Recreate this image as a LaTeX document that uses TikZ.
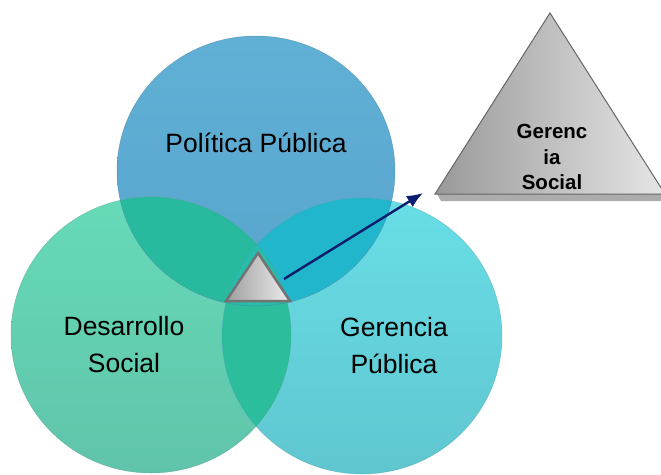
\documentclass[tikz,border=0pt]{standalone}
\usepackage{fontspec}
\usetikzlibrary{arrows.meta}
\setmainfont{Liberation Sans}
\begin{document}
\begin{tikzpicture}[x=1pt,y=-1pt,
  lbl/.style={font=\fontsize{26.5}{37}\selectfont, align=center, text=black},
  bigtxt/.style={font=\bfseries\fontsize{20.5}{25.5}\selectfont, align=center, text=black}]
\definecolor{topc}{RGB}{96,176,214}
\definecolor{topc2}{RGB}{88,164,204}
\definecolor{lefta}{RGB}{102,218,184}
\definecolor{leftb}{RGB}{96,196,170}
\definecolor{righta}{RGB}{104,222,230}
\definecolor{rightb}{RGB}{96,198,208}
\definecolor{ovTL}{RGB}{40,186,158}
\definecolor{ovTR}{RGB}{34,182,204}
\definecolor{ovLR}{RGB}{44,190,156}
\definecolor{ovAll}{RGB}{40,188,170}
\definecolor{arr}{RGB}{10,30,110}
\useasboundingbox (0,0) rectangle (661,474);
\fill[white] (0,0) rectangle (661,474);
% circles
\shade[top color=topc, bottom color=topc2] (256,171) ellipse [x radius=139, y radius=135];
\shade[top color=lefta, bottom color=leftb] (151,335) ellipse [x radius=140, y radius=138];
\shade[top color=righta, bottom color=rightb] (362,336) ellipse [x radius=140, y radius=138];
% overlaps
\begin{scope}
  \clip (256,171) ellipse [x radius=139, y radius=135];
  \fill[ovTL] (151,335) ellipse [x radius=140, y radius=138];
  \fill[ovTR] (362,336) ellipse [x radius=140, y radius=138];
\end{scope}
\begin{scope}
  \clip (151,335) ellipse [x radius=140, y radius=138];
  \fill[ovLR] (362,336) ellipse [x radius=140, y radius=138];
  \clip (256,171) ellipse [x radius=139, y radius=135];
  \fill[ovAll] (362,336) ellipse [x radius=140, y radius=138];
\end{scope}
% outlines
\draw[topc2!80!black, line width=0.5, opacity=0.6] (256,171) ellipse [x radius=139, y radius=135];
\draw[leftb!80!black, line width=0.5, opacity=0.5] (151,335) ellipse [x radius=140, y radius=138];
\draw[rightb!80!black, line width=0.5, opacity=0.5] (362,336) ellipse [x radius=140, y radius=138];
% labels
\node[lbl] (pp) at (256,143) {Política Pública};
\node[lbl] (ds) at (124,345) {Desarrollo\\Social};
\node[lbl] (gp) at (394,346) {Gerencia\\Pública};
% small triangle
\coordinate (sA) at (258,253);
\coordinate (sL) at (226,301);
\coordinate (sR) at (290,301);
\shade[shading angle=45, left color=gray!75, right color=gray!15] (sA) -- (sL) -- (sR) -- cycle;
\draw[gray!90!black, line width=2.5, line join=miter] (sA) -- (sL) -- (sR) -- cycle;
% big triangle
\fill[gray!65] (437,194) -- (663,194) -- (663,201) -- (441,201) -- cycle;
\coordinate (bA) at (550,13);
\coordinate (bL) at (435,194);
\coordinate (bR) at (665,194);
\shade[shading angle=60, left color=gray!80, right color=gray!20] (bA) -- (bL) -- (bR) -- cycle;
\draw[gray!80!black, line width=1] (bA) -- (bL) -- (bR) -- cycle;
\node[bigtxt] (gs) at (552,157) {Gerenc\\ia\\Social};
% arrow
\coordinate (aS) at (284,279);
\coordinate (aE) at (423,193);
\draw[arr, line width=2.4, -{Latex[length=16pt,width=13pt]}] (aS) -- (aE);
\end{tikzpicture}
\end{document}
